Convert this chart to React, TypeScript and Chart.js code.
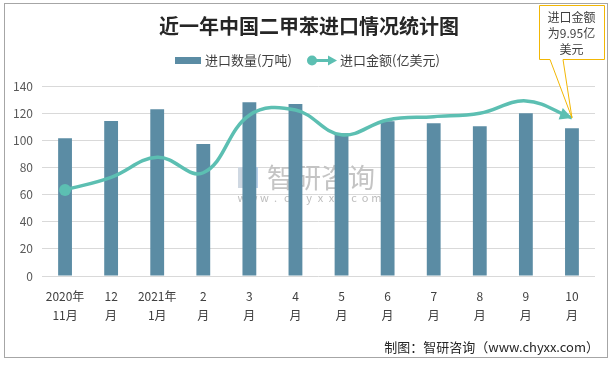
import React, { useEffect, useRef } from "react";
import { Chart, registerables } from "chart.js";

Chart.register(...registerables);

const categories: string[][] = [
  ["2020年", "11月"],
  ["12", "月"],
  ["2021年", "1月"],
  ["2", "月"],
  ["3", "月"],
  ["4", "月"],
  ["5", "月"],
  ["6", "月"],
  ["7", "月"],
  ["8", "月"],
  ["9", "月"],
  ["10", "月"],
];
const importVolume = [101.5, 114.2, 122.8, 97.3, 128, 126.7, 105.1, 114, 112.5, 110.3, 119.9, 108.8];
const importValue = [63.4, 72.7, 87.5, 76.1, 118.5, 122.3, 104, 115, 117.4, 119.9, 129, 116.5];
const yMin = 0;
const yMax = 140;
const yStep = 20;

const titleText = "近一年中国二甲苯进口情况统计图";
const legendBar = "进口数量(万吨)";
const legendLine = "进口金额(亿美元)";
const calloutLines = ["进口金额", "为9.95亿", "美元"];
const footerText = "制图：智研咨询（www.chyxx.com）";
const watermarkText = "智研咨询";
const watermarkUrl = "www.chyxx.com";

const FONT = '"Noto Sans CJK SC", "Microsoft YaHei", sans-serif';
const BAR_COLOR = "#5b8ca4";
const LINE_COLOR = "#5cbfb2";
const GRID_COLOR = "#d9d9d9";

export default function App() {
  const ref = useRef<HTMLCanvasElement>(null);

  useEffect(() => {
    document.body.style.margin = "0";
    const canvas = ref.current;
    if (!canvas) return;

    const decor = {
      id: "decor",
      beforeDatasetsDraw(chart: any) {
        const ctx = chart.ctx as CanvasRenderingContext2D;
        ctx.save();
        // watermark logo
        ctx.fillStyle = "#bcd2ea";
        ctx.fillRect(238, 167, 20, 21);
        ctx.fillStyle = "#ffffff";
        ctx.fillRect(242, 173, 12, 2);
        ctx.fillRect(242, 180, 12, 2);
        ctx.fillStyle = "#cfd8e2";
        ctx.fillRect(238, 167, 6, 21);
        // watermark text
        ctx.fillStyle = "#c4c4c4";
        ctx.font = `27px ${FONT}`;
        ctx.textAlign = "left";
        ctx.textBaseline = "middle";
        ctx.fillText(watermarkText, 267, 178);
        ctx.font = `11px ${FONT}`;
        ctx.fillStyle = "#bdbdbd";
        ctx.textAlign = "center";
        const chars = watermarkUrl.split("");
        chars.forEach((c, i) => {
          ctx.fillText(c, 242 + i * 11.2, 198);
        });
        ctx.restore();
      },
      afterDatasetsDraw(chart: any) {
        const ctx = chart.ctx as CanvasRenderingContext2D;
        const meta = chart.getDatasetMeta(1);
        const pts = meta.data;
        const last = pts[pts.length - 1];
        ctx.save();
        // arrow at end of line
        const cx = last.cp1x ?? pts[pts.length - 2].x;
        const cy = last.cp1y ?? pts[pts.length - 2].y;
        const ang = Math.atan2(last.y - cy, last.x - cx);
        const L = 12;
        const W = 6;
        ctx.fillStyle = LINE_COLOR;
        ctx.beginPath();
        ctx.moveTo(last.x, last.y);
        ctx.lineTo(last.x - L * Math.cos(ang) + W * Math.sin(ang), last.y - L * Math.sin(ang) - W * Math.cos(ang));
        ctx.lineTo(last.x - L * Math.cos(ang) - W * Math.sin(ang), last.y - L * Math.sin(ang) + W * Math.cos(ang));
        ctx.closePath();
        ctx.fill();

        // callout
        const bx0 = 539, by0 = 5, bx1 = 604, by1 = 59;
        ctx.beginPath();
        ctx.moveTo(bx0 + 0.5, by0 + 0.5);
        ctx.lineTo(bx1 + 0.5, by0 + 0.5);
        ctx.lineTo(bx1 + 0.5, by1 + 0.5);
        ctx.lineTo(563, by1 + 0.5);
        ctx.lineTo(last.x, last.y);
        ctx.lineTo(550, by1 + 0.5);
        ctx.lineTo(bx0 + 0.5, by1 + 0.5);
        ctx.closePath();
        ctx.fillStyle = "#ffffff";
        ctx.fill();
        ctx.strokeStyle = "#f2b705";
        ctx.lineWidth = 1;
        ctx.stroke();
        ctx.fillStyle = "#404040";
        ctx.font = `12px ${FONT}`;
        ctx.textAlign = "center";
        ctx.textBaseline = "middle";
        calloutLines.forEach((t, i) => ctx.fillText(t, 571.5, 17 + i * 16));
        ctx.restore();
      },
      afterDraw(chart: any) {
        const ctx = chart.ctx as CanvasRenderingContext2D;
        ctx.save();
        // title
        ctx.fillStyle = "#262626";
        ctx.font = `bold 20px ${FONT}`;
        ctx.textAlign = "center";
        ctx.textBaseline = "middle";
        ctx.fillText(titleText, 309, 26);
        // legend
        ctx.fillStyle = BAR_COLOR;
        ctx.fillRect(175, 57, 26, 7);
        ctx.font = `13px ${FONT}`;
        ctx.fillStyle = "#404040";
        ctx.textAlign = "left";
        ctx.fillText(legendBar, 205, 60);
        ctx.strokeStyle = LINE_COLOR;
        ctx.lineWidth = 3;
        ctx.beginPath();
        ctx.moveTo(312, 60.5);
        ctx.lineTo(330, 60.5);
        ctx.stroke();
        ctx.fillStyle = LINE_COLOR;
        ctx.beginPath();
        ctx.arc(312, 60.5, 5, 0, Math.PI * 2);
        ctx.fill();
        ctx.beginPath();
        ctx.moveTo(337, 60.5);
        ctx.lineTo(328, 55.5);
        ctx.lineTo(328, 65.5);
        ctx.closePath();
        ctx.fill();
        ctx.fillStyle = "#404040";
        ctx.fillText(legendLine, 340, 60);
        // footer
        ctx.font = `13px ${FONT}`;
        ctx.fillStyle = "#262626";
        ctx.textAlign = "right";
        ctx.fillText(footerText, 599, 347);
        ctx.restore();
      },
    };

    const chart = new Chart(canvas, {
      type: "bar",
      data: {
        labels: categories,
        datasets: [
          {
            type: "bar",
            label: legendBar,
            data: importVolume,
            backgroundColor: BAR_COLOR,
            borderWidth: 0,
            categoryPercentage: 1,
            barPercentage: 0.3,
            order: 1,
          },
          {
            type: "line",
            label: legendLine,
            data: importValue,
            borderColor: LINE_COLOR,
            backgroundColor: LINE_COLOR,
            borderWidth: 3.5,
            tension: 0.4,
            fill: false,
            pointRadius: importValue.map((_, i) => (i === 0 ? 6 : 0)),
            pointBorderWidth: 0,
            pointBackgroundColor: LINE_COLOR,
            order: 0,
          } as any,
        ],
      },
      options: {
        responsive: false,
        animation: false,
        devicePixelRatio: 1,
        layout: { padding: { top: 86, left: 0, right: 19, bottom: 32 } },
        plugins: {
          legend: { display: false },
          title: { display: false },
          tooltip: { enabled: false },
        },
        scales: {
          x: {
            grid: { display: false, drawTicks: false },
            border: { display: false },
            ticks: {
              autoSkip: false,
              maxRotation: 0,
              minRotation: 0,
              padding: 11,
              color: "#404040",
              font: { family: FONT, size: 12, lineHeight: 1.6 },
            },
            afterFit: (s: any) => {
              s.height = 60;
            },
          },
          y: {
            min: yMin,
            max: yMax,
            grid: { color: GRID_COLOR, lineWidth: 1, drawTicks: false },
            border: { display: false },
            ticks: {
              stepSize: yStep,
              padding: 9,
              color: "#595959",
              font: { family: FONT, size: 12 },
            },
            afterFit: (s: any) => {
              s.width = 42;
            },
          },
        },
      },
      plugins: [decor],
    });

    return () => chart.destroy();
  }, []);

  return (
    <div style={{ position: "relative", width: 614, height: 368, background: "#ffffff" }}>
      <canvas ref={ref} width={614} height={368} style={{ position: "absolute", left: 0, top: 0 }} />
      <div
        style={{
          position: "absolute",
          left: 4,
          top: 3,
          width: 604,
          height: 355,
          border: "1px solid #a6a6a6",
          boxSizing: "border-box",
          pointerEvents: "none",
        }}
      />
    </div>
  );
}
